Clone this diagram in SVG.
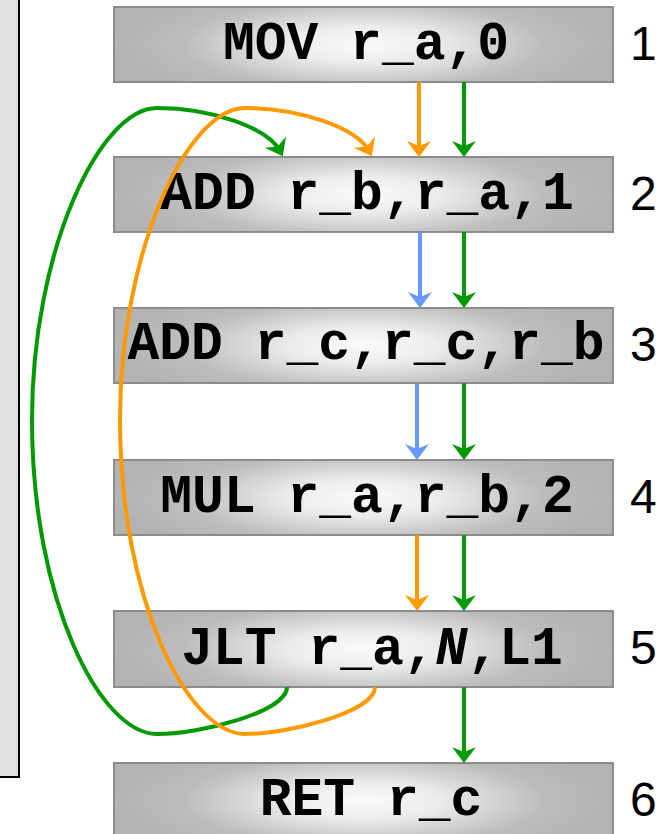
<svg xmlns="http://www.w3.org/2000/svg" width="663" height="834" viewBox="0 0 663 834">
<style>
.box{stroke:#8c8c8c;stroke-width:2;fill:url(#g)}
.code{font-family:"Liberation Mono","Courier New",monospace;font-weight:bold;font-size:53px;fill:#000;text-anchor:middle}
.num{font-family:"Liberation Sans",Arial,sans-serif;font-size:48px;fill:#000}
.c{fill:none;stroke-width:4}
.o{stroke:#ff9900}
.gr{stroke:#009900}
.b{stroke:#6699ff}
</style>
<defs>
<radialGradient id="g" cx="0.5" cy="0.5" r="0.5" gradientTransform="translate(0.5,0.5) scale(1,1.6) translate(-0.5,-0.5)">
<stop offset="0" stop-color="#fafafa"/>
<stop offset="0.3" stop-color="#ececec"/>
<stop offset="0.72" stop-color="#bdbdbd"/>
<stop offset="1" stop-color="#b3b3b3"/>
</radialGradient>
<marker id="ao" markerUnits="userSpaceOnUse" markerWidth="16" markerHeight="24" refX="10" refY="12" orient="auto" overflow="visible"><path d="M16,12 L0,0 L5,12 L0,24 Z" fill="#ff9900"/></marker>
<marker id="ag" markerUnits="userSpaceOnUse" markerWidth="16" markerHeight="24" refX="10" refY="12" orient="auto" overflow="visible"><path d="M16,12 L0,0 L5,12 L0,24 Z" fill="#009900"/></marker>
<marker id="ab" markerUnits="userSpaceOnUse" markerWidth="16" markerHeight="24" refX="10" refY="12" orient="auto" overflow="visible"><path d="M16,12 L0,0 L5,12 L0,24 Z" fill="#6699ff"/></marker>
</defs>
<rect x="-2" y="-2" width="21" height="779" fill="#e0e0e0" stroke="#000" stroke-width="2"/>
<g id="n1"><rect class="box" x="114" y="7" width="499" height="75"/><text class="code" x="366" y="59">MOV r_a,0</text><text class="num" x="630" y="60">1</text></g>
<g id="n2"><rect class="box" x="114" y="157" width="499" height="75"/><text class="code" x="367" y="209">ADD r_b,r_a,1</text><text class="num" x="630" y="210">2</text></g>
<g id="n3"><rect class="box" x="114" y="308" width="499" height="75"/><text class="code" x="366" y="359">ADD r_c,r_c,r_b</text><text class="num" x="630" y="361">3</text></g>
<g id="n4"><rect class="box" x="114" y="460" width="499" height="75"/><text class="code" x="367" y="512">MUL r_a,r_b,2</text><text class="num" x="630" y="513">4</text></g>
<g id="n5"><rect class="box" x="114" y="611" width="499" height="76"/><text class="code" x="372" y="664">JLT r_a,<tspan font-style="italic">N</tspan>,L1</text><text class="num" x="630" y="664">5</text></g>
<g id="n6"><rect class="box" x="114" y="763" width="499" height="76"/><text class="code" x="371" y="815">RET r_c</text><text class="num" x="630" y="816">6</text></g>
<g id="connectors">
<line class="c o" x1="419" y1="82" x2="419" y2="151" marker-end="url(#ao)"/>
<line class="c gr" x1="464" y1="82" x2="464" y2="151" marker-end="url(#ag)"/>
<line class="c b" x1="420" y1="232" x2="420" y2="302" marker-end="url(#ab)"/>
<line class="c gr" x1="464" y1="232" x2="464" y2="302" marker-end="url(#ag)"/>
<line class="c b" x1="417" y1="383" x2="417" y2="454" marker-end="url(#ab)"/>
<line class="c gr" x1="464" y1="383" x2="464" y2="454" marker-end="url(#ag)"/>
<line class="c o" x1="417" y1="535" x2="417" y2="605" marker-end="url(#ao)"/>
<line class="c gr" x1="464" y1="535" x2="464" y2="605" marker-end="url(#ag)"/>
<line class="c gr" x1="464" y1="687" x2="464" y2="757" marker-end="url(#ag)"/>
<path class="c gr" d="M287,687 C287,712 200,734 157,734 C100,734 32,600 32,420 C32,250 100,108 157,108 C212,108 268,128 280,151" marker-end="url(#ag)"/>
<path class="c o" d="M375,687 C375,712 288,734 245,734 C188,734 120,600 120,420 C120,250 188,108 245,108 C300,108 357,128 369,151" marker-end="url(#ao)"/>
</g>
</svg>
